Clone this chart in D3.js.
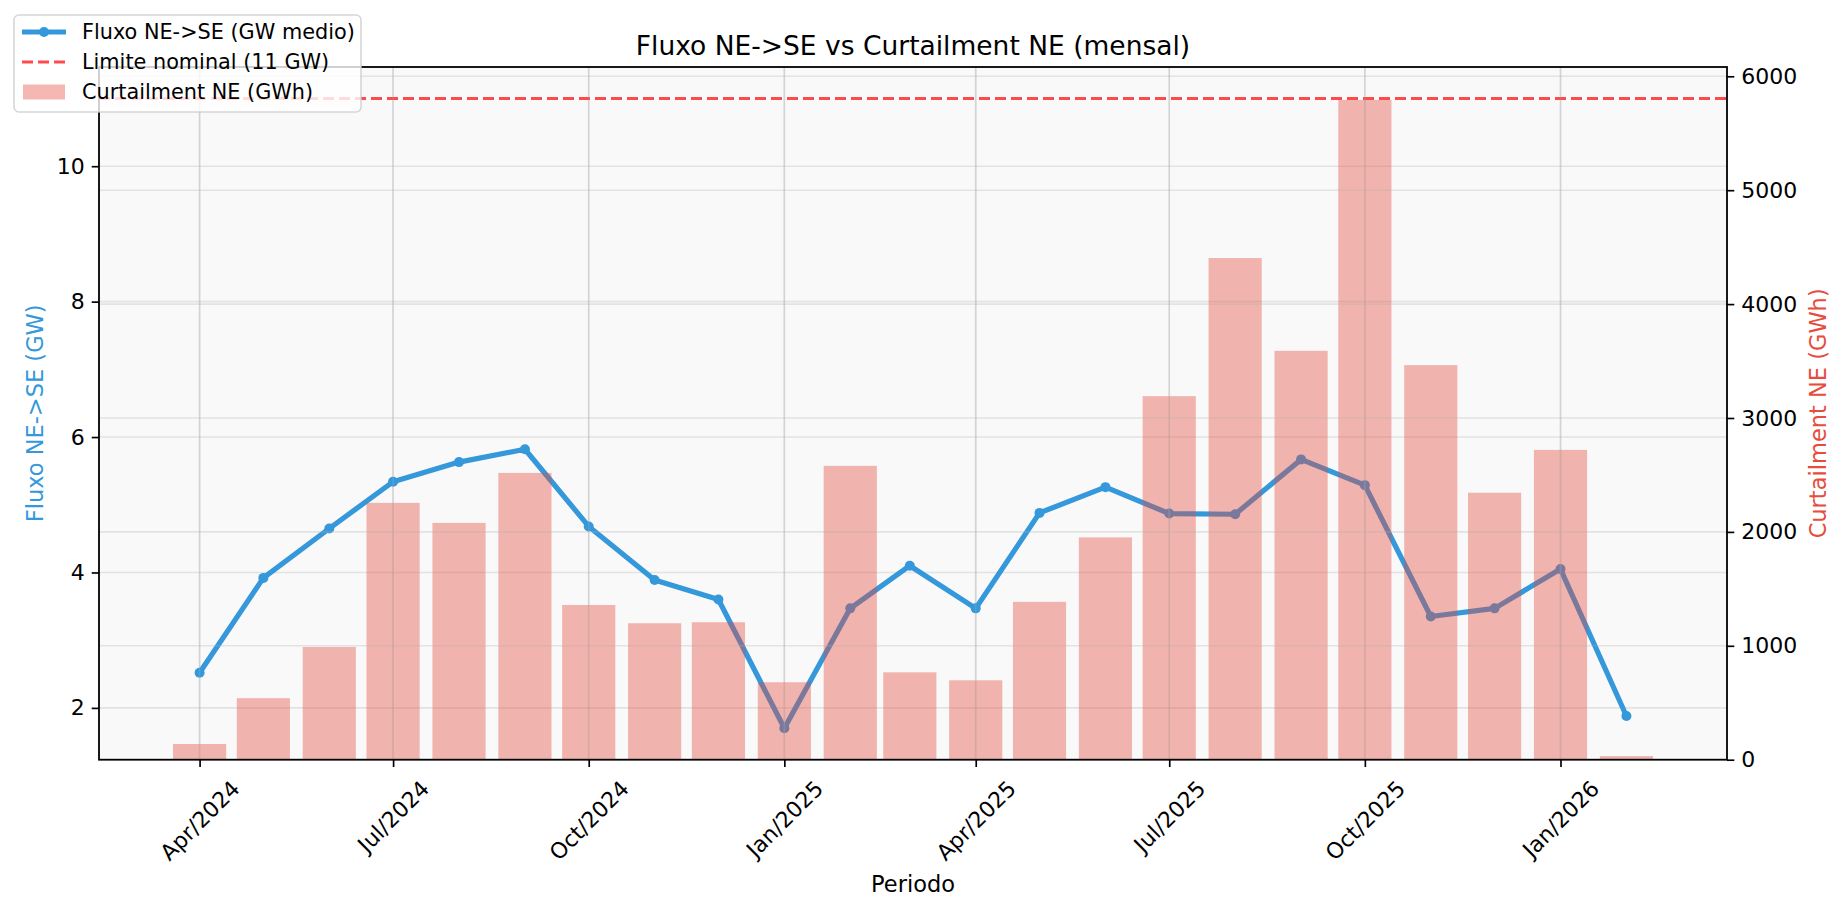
<!DOCTYPE html>
<html>
<head>
<meta charset="utf-8">
<script src="https://cdn.jsdelivr.net/npm/d3@7"></script>
<style>
    body { margin: 0; background: #ffffff; }
    svg { display: block; font-family: 'DejaVu Sans', sans-serif; }
</style>
</head>
<body>
<svg></svg>
<script>
// monthly data
let months = ['2024-04', '2024-05', '2024-06', '2024-07', '2024-08', '2024-09', '2024-10', '2024-11', '2024-12',
              '2025-01', '2025-02', '2025-03', '2025-04', '2025-05', '2025-06', '2025-07', '2025-08', '2025-09',
              '2025-10', '2025-11', '2025-12', '2026-01', '2026-02']
let fluxo = [2.52, 3.92, 4.65, 5.34, 5.63, 5.82, 4.68, 3.89, 3.60,
             1.70, 3.47, 4.10, 3.47, 4.88, 5.26, 4.87, 4.86, 5.67,
             5.29, 3.35, 3.47, 4.05, 1.88]
let curtailment = [138, 540, 990, 2255, 2079, 2518, 1358, 1198, 1207,
                   680, 2580, 767, 697, 1386, 1952, 3192, 4404, 3590,
                   5792, 3464, 2344, 2720, 32]
let limite = 11

let xTickMonths = ['2024-04', '2024-07', '2024-10', '2025-01', '2025-04', '2025-07', '2025-10', '2026-01']
let xTickLabels = ['Apr/2024', 'Jul/2024', 'Oct/2024', 'Jan/2025', 'Apr/2025', 'Jul/2025', 'Oct/2025', 'Jan/2026']
let leftTicks = [2, 4, 6, 8, 10]
let rightTicks = [0, 1000, 2000, 3000, 4000, 5000, 6000]

let width = 1845
let height = 912
let margin = {left: 99, right: 1727, top: 67, bottom: 759.7}

let blue = '#3498db'
let red = '#e74c3c'
let gridColor = '#b0b0b0'
let font = "'DejaVu Sans', sans-serif"
let tickFont = 22

let svg = d3.select('svg').attr('width', width).attr('height', height)

let parse = d3.timeParse('%Y-%m')
let dates = months.map(parse)
let tickDates = xTickMonths.map(parse)
let day = 24 * 3600 * 1000
let barDays = 25

let xScale, yLeft, yRight

let generateScales = () => {
    // matplotlib style: 5% margin around data (bars included)
    let x0 = +dates[0] - barDays / 2 * day
    let x1 = +dates[dates.length - 1] + barDays / 2 * day
    let xp = (x1 - x0) * 0.05
    xScale = d3.scaleTime()
                .domain([new Date(x0 - xp), new Date(x1 + xp)])
                .range([margin.left, margin.right])

    let lo = Math.min(d3.min(fluxo), limite)
    let hi = Math.max(d3.max(fluxo), limite)
    let yp = (hi - lo) * 0.05
    yLeft = d3.scaleLinear()
                .domain([lo - yp, hi + yp])
                .range([margin.bottom, margin.top])

    yRight = d3.scaleLinear()
                .domain([0, d3.max(curtailment) * 1.05])
                .range([margin.bottom, margin.top])
}

let drawBackground = () => {
    svg.append('rect')
        .attr('x', margin.left)
        .attr('y', margin.top)
        .attr('width', margin.right - margin.left)
        .attr('height', margin.bottom - margin.top)
        .attr('fill', '#f9f9f9')
}

let drawGrid = (yScale, yTicks) => {
    let g = svg.append('g')
        .attr('stroke', gridColor)
        .attr('stroke-opacity', 0.3)
        .attr('stroke-width', 1.6)
    g.selectAll('.vgrid')
        .data(tickDates)
        .enter()
        .append('line')
        .attr('x1', d => xScale(d))
        .attr('x2', d => xScale(d))
        .attr('y1', margin.top)
        .attr('y2', margin.bottom)
    g.selectAll('.hgrid')
        .data(yTicks)
        .enter()
        .append('line')
        .attr('x1', margin.left)
        .attr('x2', margin.right)
        .attr('y1', d => yScale(d))
        .attr('y2', d => yScale(d))
}

let drawFlux = () => {
    let line = d3.line()
                .x((d, i) => xScale(dates[i]))
                .y(d => yLeft(d))
    svg.append('path')
        .datum(fluxo)
        .attr('d', line)
        .attr('fill', 'none')
        .attr('stroke', blue)
        .attr('stroke-width', 5.2)
        .attr('stroke-linejoin', 'round')
    svg.selectAll('.point')
        .data(fluxo)
        .enter()
        .append('circle')
        .attr('cx', (d, i) => xScale(dates[i]))
        .attr('cy', d => yLeft(d))
        .attr('r', 5)
        .attr('fill', blue)

    svg.append('line')
        .attr('x1', margin.left)
        .attr('x2', margin.right)
        .attr('y1', yLeft(limite))
        .attr('y2', yLeft(limite))
        .attr('stroke', 'red')
        .attr('stroke-opacity', 0.7)
        .attr('stroke-width', 3)
        .attr('stroke-dasharray', '11,5')
}

let drawBars = () => {
    svg.selectAll('.bar')
        .data(curtailment)
        .enter()
        .append('rect')
        .attr('class', 'bar')
        .attr('x', (d, i) => xScale(+dates[i] - barDays / 2 * day))
        .attr('width', (d, i) => xScale(+dates[i] + barDays / 2 * day) - xScale(+dates[i] - barDays / 2 * day))
        .attr('y', d => yRight(d))
        .attr('height', d => yRight(0) - yRight(d))
        .attr('fill', red)
        .attr('fill-opacity', 0.4)
}

let styleAxis = (g) => {
    g.attr('font-family', font).attr('font-size', tickFont)
    g.select('.domain').remove()
    g.selectAll('.tick line').attr('stroke', '#000').attr('stroke-width', 1.67)
    g.selectAll('.tick text').attr('fill', '#000')
}

let generateAxes = () => {
    let xAxis = d3.axisBottom(xScale)
                .tickValues(tickDates)
                .tickFormat((d, i) => xTickLabels[i])
                .tickSize(7.3)
                .tickPadding(0)
    let leftAxis = d3.axisLeft(yLeft)
                .tickValues(leftTicks)
                .tickFormat(d3.format('d'))
                .tickSize(7.3)
                .tickPadding(7)
    let rightAxis = d3.axisRight(yRight)
                .tickValues(rightTicks)
                .tickFormat(d3.format('d'))
                .tickSize(7.3)
                .tickPadding(7)

    let gx = svg.append('g')
        .attr('id', 'x-axis')
        .attr('transform', 'translate(0, ' + margin.bottom + ')')
        .call(xAxis)
        .call(styleAxis)
    // rotate 45 deg, rotated box centred under the tick
    let h = tickFont * 1.16
    gx.selectAll('.tick text').each(function () {
        let w = this.getComputedTextLength()
        let off = 16 + (w + h) / (2 * Math.SQRT2)
        d3.select(this)
            .attr('y', null)
            .attr('dy', null)
            .attr('text-anchor', 'middle')
            .attr('dominant-baseline', 'central')
            .attr('transform', 'translate(0,' + off + ') rotate(-45)')
    })

    svg.append('g')
        .attr('id', 'y-axis')
        .attr('transform', 'translate(' + margin.left + ', 0)')
        .call(leftAxis)
        .call(styleAxis)

    svg.append('g')
        .attr('id', 'y2-axis')
        .attr('transform', 'translate(' + margin.right + ', 0)')
        .call(rightAxis)
        .call(styleAxis)

    // spines
    svg.append('rect')
        .attr('x', margin.left)
        .attr('y', margin.top)
        .attr('width', margin.right - margin.left)
        .attr('height', margin.bottom - margin.top)
        .attr('fill', 'none')
        .attr('stroke', '#000')
        .attr('stroke-width', 1.8)
}

let drawLabels = () => {
    let midX = (margin.left + margin.right) / 2
    let midY = (margin.top + margin.bottom) / 2
    svg.append('text')
        .attr('x', midX)
        .attr('y', 55)
        .attr('text-anchor', 'middle')
        .style('font-size', '26.5px')
        .text('Fluxo NE->SE vs Curtailment NE (mensal)')
    svg.append('text')
        .attr('x', midX)
        .attr('y', 884)
        .attr('text-anchor', 'middle')
        .attr('dominant-baseline', 'central')
        .style('font-size', '22.5px')
        .text('Periodo')
    svg.append('text')
        .attr('transform', 'translate(35,' + midY + ') rotate(-90)')
        .attr('text-anchor', 'middle')
        .attr('dominant-baseline', 'central')
        .attr('fill', blue)
        .style('font-size', '22.5px')
        .text('Fluxo NE->SE (GW)')
    svg.append('text')
        .attr('transform', 'translate(1818,' + midY + ') rotate(-90)')
        .attr('text-anchor', 'middle')
        .attr('dominant-baseline', 'central')
        .attr('fill', red)
        .style('font-size', '22.5px')
        .text('Curtailment NE (GWh)')
}

let drawLegend = () => {
    let lg = svg.append('g').attr('transform', 'translate(14, 15)')
    lg.append('rect')
        .attr('width', 347)
        .attr('height', 97)
        .attr('rx', 5)
        .attr('fill', '#fff')
        .attr('fill-opacity', 0.8)
        .attr('stroke', '#cccccc')
        .attr('stroke-opacity', 0.8)
        .attr('stroke-width', 1.6)

    let items = ['Fluxo NE->SE (GW medio)', 'Limite nominal (11 GW)', 'Curtailment NE (GWh)']
    let rowY = [17, 47, 77]
    // line + marker
    lg.append('line').attr('x1', 8).attr('x2', 52).attr('y1', rowY[0]).attr('y2', rowY[0])
        .attr('stroke', blue).attr('stroke-width', 5.2)
    lg.append('circle').attr('cx', 30).attr('cy', rowY[0]).attr('r', 5).attr('fill', blue)
    // dashed
    lg.append('line').attr('x1', 8).attr('x2', 52).attr('y1', rowY[1]).attr('y2', rowY[1])
        .attr('stroke', 'red').attr('stroke-opacity', 0.7).attr('stroke-width', 3)
        .attr('stroke-dasharray', '11,5')
    // patch
    lg.append('rect').attr('x', 9).attr('y', rowY[2] - 7.5).attr('width', 42).attr('height', 15)
        .attr('fill', red).attr('fill-opacity', 0.4)

    lg.selectAll('.ltext')
        .data(items)
        .enter()
        .append('text')
        .attr('x', 68)
        .attr('y', (d, i) => rowY[i])
        .attr('dominant-baseline', 'central')
        .style('font-size', '20.8px')
        .text(d => d)
}

generateScales()
drawBackground()
drawGrid(yLeft, leftTicks)
drawFlux()
drawBars()
drawGrid(yRight, rightTicks)
generateAxes()
drawLabels()
drawLegend()
</script>
</body>
</html>
